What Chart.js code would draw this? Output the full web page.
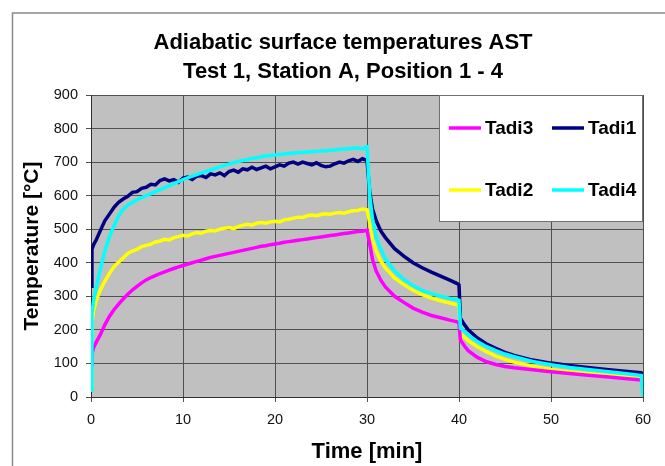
<!DOCTYPE html>
<html>
<head>
<meta charset="utf-8">
<script src="https://cdn.jsdelivr.net/npm/chart.js@4.4.0/dist/chart.umd.min.js"></script>
<style>
  html, body { margin: 0; padding: 0; background: #fff; }
  #wrap { width: 665px; height: 466px; position: relative; }
</style>
</head>
<body>
<div id="wrap"><canvas id="chart" width="665" height="466"></canvas></div>
<script>
const titleLines = ["Adiabatic surface temperatures AST", "Test 1, Station A, Position 1 - 4"];
const xTitle = "Time [min]";
const yTitle = "Temperature [°C]";
const legendOrder = ["Tadi3", "Tadi1", "Tadi2", "Tadi4"];

// time in minutes
const times = [0, 0.1, 0.3, 0.6, 1, 1.5, 2, 2.5, 3, 3.5,
  4, 4.5, 5, 5.5, 6, 6.5, 7, 7.5, 8, 8.5, 9, 9.5, 10, 10.5, 11, 11.5, 12, 12.5, 13, 13.5,
  14, 14.5, 15, 15.5, 16, 16.5, 17, 17.5, 18, 18.5, 19, 19.5, 20, 20.5, 21, 21.5, 22, 22.5, 23, 23.5,
  24, 24.5, 25, 25.5, 26, 26.5, 27, 27.5, 28, 28.5, 29, 29.5, 30,
  30.3, 30.6, 31, 31.5, 32, 33, 34, 35, 36, 37, 38, 39, 39.8, 40, 40.15, 40.6, 41, 42, 43, 44, 45, 46,
  48, 50, 52, 54, 56, 58, 59.8, 60];

const tadi1 = [330, 440, 455, 470, 495, 525, 545, 565, 580, 590,
  598, 610, 612, 622, 625, 634, 632, 645, 650, 644, 648, 640, 652, 655, 648, 658, 660, 654, 665, 662,
  668, 660, 672, 676, 670, 680, 677, 685, 678, 683, 688, 680, 686, 692, 688, 697, 700, 694, 700, 696,
  692, 698, 690, 686, 688, 695, 700, 697, 704, 708, 702, 710, 705,
  610, 560, 525, 495, 475, 442, 420, 400, 385, 372, 360, 348, 338, 334, 235, 215, 200, 176, 158, 145, 133, 124,
  110, 101, 94, 88, 82, 77, 72, 70];

const tadi2 = [30, 220, 260, 290, 318, 345, 368, 388, 402, 415,
  428, 435, 440, 448, 452, 455, 462, 465, 470, 468, 475, 478, 482, 480, 486, 490, 488, 494, 496, 495,
  500, 503, 505, 502, 508, 512, 515, 512, 518, 520, 518, 522, 524, 522, 528, 530, 533, 536, 535, 540,
  542, 540, 544, 546, 545, 548, 550, 548, 552, 555, 556, 560, 558,
  520, 470, 435, 405, 385, 355, 335, 318, 305, 295, 287, 280, 275, 272, 190, 178, 168, 150, 135, 122, 112, 104,
  92, 82, 75, 70, 65, 60, 56, 55];

const tadi3 = [95, 130, 148, 165, 185, 215, 240, 260, 277, 292,
  306, 319, 330, 340, 349, 356, 362, 368, 373, 378, 383, 388, 392, 396, 400, 404, 408, 412, 416, 419,
  422, 425, 428, 431, 434, 437, 440, 443, 446, 449, 451, 454, 456, 458, 461, 463, 465, 467, 469, 471,
  473, 475, 477, 479, 481, 483, 485, 487, 489, 491, 493, 494, 497,
  455, 410, 375, 348, 328, 300, 282, 265, 253, 243, 236, 229, 224, 222, 170, 152, 138, 118, 105, 97, 91, 87,
  81, 75, 70, 65, 60, 55, 51, 50];

const tadi4 = [20, 250, 290, 330, 380, 435, 478, 510, 540, 560,
  572, 580, 588, 594, 600, 606, 612, 618, 624, 630, 636, 642, 648, 653, 658, 663, 668, 672, 677, 681,
  686, 690, 694, 698, 702, 705, 708, 711, 713, 716, 718, 720, 721, 723, 724, 726, 727, 728, 729, 730,
  731, 732, 733, 734, 735, 736, 738, 739, 740, 741, 742, 740, 745,
  600, 530, 475, 440, 412, 375, 350, 332, 318, 308, 300, 294, 290, 288, 205, 195, 185, 165, 150, 138, 128, 120,
  106, 96, 88, 82, 76, 70, 64, 2];

const xTicks = [0, 10, 20, 30, 40, 50, 60];
const yTicks = [0, 100, 200, 300, 400, 500, 600, 700, 800, 900];

const FONT = "'Liberation Sans', Arial, sans-serif";

function pts(vals) {
  return times.map((t, i) => ({ x: t, y: vals[i] }));
}

// grey plot background + outer frame + titles
const framePlugin = {
  id: 'frame',
  beforeDraw(chart) {
    const c = chart.ctx, a = chart.chartArea;
    c.save();
    c.fillStyle = '#fff';
    c.fillRect(0, 0, chart.width, chart.height);
    c.strokeStyle = '#8a8a8a';
    c.lineWidth = 1.5;
    c.strokeRect(12.5, 13, 700, 500);
    c.fillStyle = '#c0c0c0';
    c.fillRect(a.left, a.top, a.right - a.left, a.bottom - a.top);
    c.fillStyle = '#000';
    c.font = "bold 22px " + FONT;
    c.textAlign = 'center';
    c.textBaseline = 'middle';
    c.fillText(titleLines[0], 343, 43);
    c.fillText(titleLines[1], 343, 72);
    c.restore();
  }
};

// legend box inside the plot, 2 x 2
const legendBox = {
  id: 'legendBox',
  afterDatasetsDraw(chart) {
    const c = chart.ctx;
    const x0 = 439, y0 = 95, w = 204, h = 127;
    c.save();
    c.fillStyle = '#fff';
    c.fillRect(x0, y0, w, h);
    c.strokeStyle = '#707070';
    c.lineWidth = 1;
    c.strokeRect(x0 + 0.5, y0 + 0.5, w - 1, h - 1);
    c.font = "bold 19px " + FONT;
    c.textBaseline = 'middle';
    c.textAlign = 'left';
    legendOrder.forEach((name, i) => {
      const ds = chart.data.datasets.find(d => d.label === name);
      const col = i % 2, row = Math.floor(i / 2);
      const lx = 449 + col * 103;
      const ly = 128 + row * 62;
      c.strokeStyle = ds.borderColor;
      c.lineWidth = 3.5;
      c.beginPath();
      c.moveTo(lx, ly);
      c.lineTo(lx + 32, ly);
      c.stroke();
      c.fillStyle = '#000';
      c.fillText(name, lx + 36, ly + 1);
    });
    c.restore();
  }
};

const ctx = document.getElementById('chart').getContext('2d');

new Chart(ctx, {
  type: 'line',
  data: {
    datasets: [
      { label: 'Tadi1', data: pts(tadi1), borderColor: '#000080', order: 4 },
      { label: 'Tadi2', data: pts(tadi2), borderColor: '#ffff00', order: 3 },
      { label: 'Tadi3', data: pts(tadi3), borderColor: '#ff00ff', order: 2 },
      { label: 'Tadi4', data: pts(tadi4), borderColor: '#00ffff', order: 1 }
    ]
  },
  options: {
    responsive: false,
    animation: false,
    events: [],
    datasets: {
      line: { borderWidth: 3.5, pointRadius: 0, tension: 0, fill: false }
    },
    layout: { padding: { left: 0, right: 22, top: 95, bottom: 0 } },
    plugins: {
      legend: { display: false },
      title: { display: false },
      tooltip: { enabled: false }
    },
    scales: {
      x: {
        type: 'linear',
        min: 0, max: 60,
        afterBuildTicks: s => { s.ticks = xTicks.map(v => ({ value: v })); },
        afterFit: s => { s.height = 69; },
        grid: { color: '#505050', lineWidth: 1, tickLength: 5, tickColor: '#505050' },
        border: { color: '#303030', width: 1 },
        ticks: { padding: 9, color: '#111', font: { family: FONT, size: 14.5 }, maxRotation: 0 },
        title: {
          display: true, text: xTitle, color: '#000',
          font: { family: FONT, size: 22, weight: 'bold' },
          padding: { top: 0, bottom: 1 }
        }
      },
      y: {
        min: 0, max: 900,
        afterBuildTicks: s => { s.ticks = yTicks.map(v => ({ value: v })); },
        afterFit: s => { s.width = 91; },
        grid: { color: '#505050', lineWidth: 1, tickLength: 5, tickColor: '#505050' },
        border: { color: '#303030', width: 1 },
        ticks: { padding: 8, color: '#111', font: { family: FONT, size: 14.5 } },
        title: {
          display: true, text: yTitle, color: '#000',
          font: { family: FONT, size: 21, weight: 'bold' },
          padding: { top: 20, bottom: 0 }
        }
      }
    }
  },
  plugins: [framePlugin, legendBox]
});
</script>
</body>
</html>
